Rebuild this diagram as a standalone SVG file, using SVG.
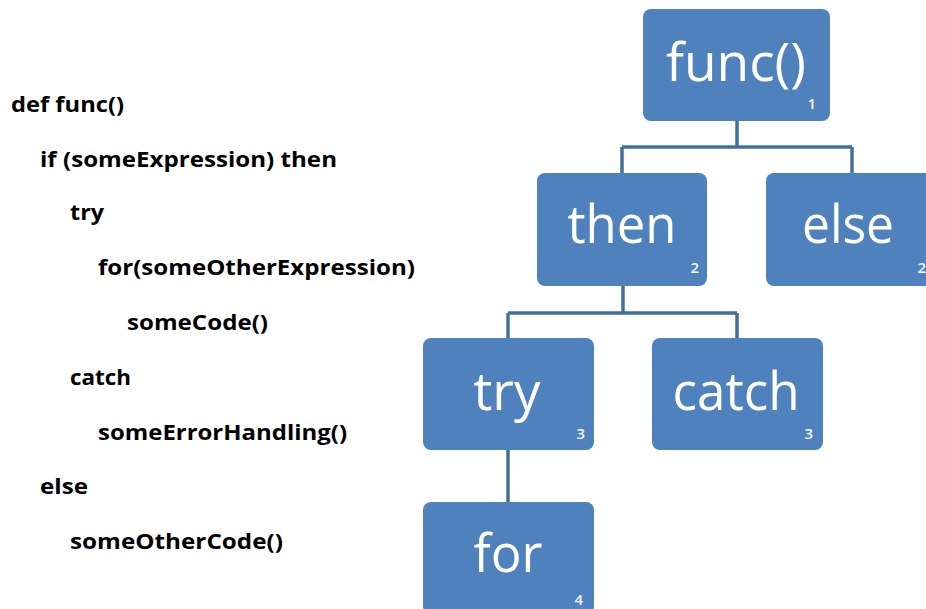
<svg xmlns="http://www.w3.org/2000/svg" width="926" height="609" viewBox="0 0 926 609">
  <style>
    .node rect { fill: #4f81bd; }
    .label { font-family: "Open Sans", "Liberation Sans", sans-serif; font-size: 53px; fill: #ffffff; text-anchor: middle; }
    .level { font-family: "Open Sans", "Liberation Sans", sans-serif; font-size: 15px; font-weight: 600; fill: #f2f6fb; text-anchor: end; }
    .code { font-family: "Open Sans", "Liberation Sans", sans-serif; font-size: 21px; font-weight: bold; fill: #000000; }
    .link { fill: none; stroke: #41709f; stroke-width: 3.5; }
  </style>

  <rect x="0" y="0" width="926" height="609" fill="#ffffff"/>

  <!-- pseudo-code listing -->
  <g id="code">
    <text class="code" x="11" y="112" textLength="113" lengthAdjust="spacingAndGlyphs">def func()</text>
    <text class="code" x="40" y="167" textLength="297" lengthAdjust="spacingAndGlyphs">if (someExpression) then</text>
    <text class="code" x="70" y="220" textLength="34" lengthAdjust="spacingAndGlyphs">try</text>
    <text class="code" x="98" y="275" textLength="317" lengthAdjust="spacingAndGlyphs">for(someOtherExpression)</text>
    <text class="code" x="127" y="330" textLength="141" lengthAdjust="spacingAndGlyphs">someCode()</text>
    <text class="code" x="70" y="385" textLength="61" lengthAdjust="spacingAndGlyphs">catch</text>
    <text class="code" x="98" y="440" textLength="249" lengthAdjust="spacingAndGlyphs">someErrorHandling()</text>
    <text class="code" x="40" y="494" textLength="48" lengthAdjust="spacingAndGlyphs">else</text>
    <text class="code" x="70" y="549" textLength="213" lengthAdjust="spacingAndGlyphs">someOtherCode()</text>
  </g>

  <!-- tree connectors -->
  <g id="connectors">
    <path class="link" d="M737 121 V147 M622 147 H852 M622 147 V173 M852 147 V173"/>
    <path class="link" d="M623 286 V313 M508 313 H737 M508 313 V338 M737 313 V338"/>
    <path class="link" d="M508 450 V502"/>
  </g>

  <!-- tree nodes -->
  <g id="node-func" class="node">
    <rect x="643" y="9" width="187" height="112" rx="8"/>
    <text class="label" x="736" y="81" textLength="140" lengthAdjust="spacingAndGlyphs">func()</text>
    <text class="level" x="816" y="109">1</text>
  </g>
  <g id="node-then" class="node">
    <rect x="537" y="173" width="170" height="113" rx="8"/>
    <text class="label" x="622" y="243" textLength="109" lengthAdjust="spacingAndGlyphs">then</text>
    <text class="level" x="699" y="273">2</text>
  </g>
  <g id="node-else" class="node">
    <rect x="766" y="173" width="170" height="113" rx="8"/>
    <text class="label" x="848" y="243" textLength="92" lengthAdjust="spacingAndGlyphs">else</text>
    <text class="level" x="926" y="273">2</text>
  </g>
  <g id="node-try" class="node">
    <rect x="423" y="338" width="171" height="112" rx="8"/>
    <text class="label" x="507" y="410" textLength="67" lengthAdjust="spacingAndGlyphs">try</text>
    <text class="level" x="585" y="439">3</text>
  </g>
  <g id="node-catch" class="node">
    <rect x="652" y="338" width="171" height="112" rx="8"/>
    <text class="label" x="736" y="410" textLength="127" lengthAdjust="spacingAndGlyphs">catch</text>
    <text class="level" x="813" y="439">3</text>
  </g>
  <g id="node-for" class="node">
    <rect x="423" y="502" width="171" height="112" rx="8"/>
    <text class="label" x="508" y="572" textLength="69" lengthAdjust="spacingAndGlyphs">for</text>
    <text class="level" x="583" y="605">4</text>
  </g>
</svg>
